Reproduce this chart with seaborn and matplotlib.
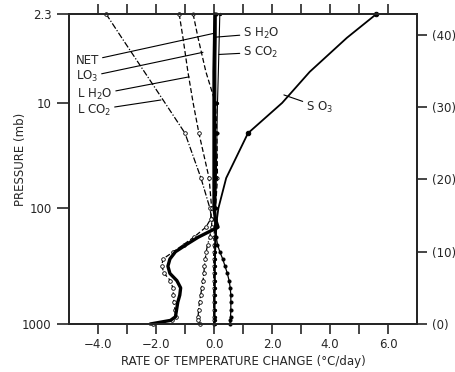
"""Heating / cooling rate profiles by absorber (stratosphere + troposphere)."""
import matplotlib
matplotlib.use("Agg")
import matplotlib.pyplot as plt
import seaborn as sns

# altitude (km) of each level; 42.9 km is the 2.3 mb top of the chart
ALT = [42.9, 39.6, 34.9, 30.6, 26.4, 20.2, 16.0, 14.5, 13.4, 12.0, 11.0, 10.0,
       9.0, 8.0, 7.0, 6.0, 5.0, 4.0, 3.0, 2.0, 1.0, 0.5, 0.0]

# rates in deg C / day, one value per level in ALT
S_O3 = [5.6, 4.58, 3.3, 2.35, 1.17, 0.42, 0.15, 0.1, 0.08, 0.06, 0.05, 0.04,
        0.04, 0.03, 0.03, 0.03, 0.03, 0.02, 0.02, 0.02, 0.02, 0.02, 0.02]
S_H2O = [0.07, 0.07, 0.06, 0.06, 0.05, 0.05, 0.05, 0.05, 0.06, 0.08, 0.12, 0.2,
         0.3, 0.38, 0.46, 0.52, 0.56, 0.58, 0.58, 0.58, 0.57, 0.56, 0.55]
S_CO2 = [0.2, 0.18, 0.15, 0.12, 0.1, 0.08, 0.06, 0.05, 0.04, 0.03, 0.03, 0.03,
         0.02, 0.02, 0.02, 0.02, 0.02, 0.02, 0.02, 0.02, 0.02, 0.02, 0.02]
L_O3 = [-0.72, -0.55, -0.28, 0.05, 0.1, 0.12, 0.05, 0.03, 0.02, 0.0, 0.0, -0.01,
        -0.01, -0.01, -0.01, -0.01, -0.01, -0.01, -0.01, -0.01, -0.01, -0.01, -0.01]
L_CO2 = [-3.72, -3.18, -2.4, -1.69, -1.0, -0.45, -0.14, -0.08, -0.08, -0.15, -0.22, -0.27,
         -0.3, -0.33, -0.35, -0.38, -0.42, -0.46, -0.5, -0.53, -0.55, -0.55, -0.5]
L_H2O = [-1.2, -1.07, -0.9, -0.72, -0.52, -0.17, -0.08, -0.12, -0.28, -0.7, -1.05, -1.4,
         -1.76, -1.8, -1.72, -1.5, -1.42, -1.4, -1.38, -1.35, -1.32, -1.45, -2.1]
NET = [0.03, 0.02, 0.0, 0.0, 0.0, 0.0, 0.0, 0.05, 0.14, -0.55, -0.95, -1.33,
       -1.52, -1.59, -1.52, -1.28, -1.15, -1.18, -1.25, -1.29, -1.33, -1.5, -2.2]

PRESSURE_ALT = [0.0, 16.0, 30.6, 42.9]
PRESSURE_LABELS = ["1000", "100", "10", "2.3"]
KM_TICKS = [0, 10, 20, 30, 40]

plt.rcParams.update({"figure.dpi": 100, "font.size": 8.5})
sns.set_style("ticks")
plt.rcParams["font.family"] = ["DejaVu Sans"]

fig = plt.figure(figsize=(4.55, 3.72))
ax = fig.add_axes([0.1516, 0.129, 0.765, 0.8334])

# levels that carry a marker (39.6 / 34.9 km only shape the curves)
marked = [0, 3, 4, 5, 6, 7, 8, 9, 10, 11, 12, 13, 14, 15, 16, 17, 18, 19, 20, 21, 22]
marked_lw = [i for i in marked if i != 3]

common = dict(y=ALT, sort=False, estimator=None, ax=ax, color="black",
              clip_on=False, markeredgecolor="black")
open_circ = dict(marker="o", markerfacecolor="white", markeredgewidth=0.6)
sns.lineplot(x=L_CO2, lw=0.9, linestyle=(0, (5, 1.5, 1, 1.5)),
             markersize=2.6, markevery=marked_lw, **open_circ, **common)
sns.lineplot(x=L_H2O, lw=0.9, linestyle=(0, (4, 2)),
             markersize=2.6, markevery=marked_lw, **open_circ, **common)
sns.lineplot(x=L_O3, lw=0.9, linestyle=(0, (4, 2)),
             markersize=2.3, markevery=marked, **open_circ, **common)
sns.lineplot(x=S_CO2, lw=0.8, marker="o", markersize=1.6, markevery=marked, **common)
sns.lineplot(x=S_H2O, lw=0.9, marker="o", markersize=2.2, markevery=marked, **common)
sns.lineplot(x=S_O3, lw=1.3, marker="o", markersize=3.2, markevery=[0, 4], **common)
sns.lineplot(x=NET, lw=2.4, **common)

ax.set_xlim(-5, 7)
ax.set_ylim(0, 42.9)
ax.set_xticks(range(-4, 7))
ax.set_xticklabels(["\u22124.0" if v == -4 else "\u22122.0" if v == -2 else
                    f"{v:.1f}" if v % 2 == 0 else "" for v in range(-4, 7)])
ax.set_yticks(PRESSURE_ALT)
ax.set_yticklabels(PRESSURE_LABELS)
ax.tick_params(axis="both", direction="out", length=7, width=1.2, labelsize=8.5)
ax.tick_params(axis="x", top=True, pad=3)
ax.tick_params(axis="y", length=9)
for s in ax.spines.values():
    s.set_linewidth(1.4)

ax2 = ax.twinx()
ax2.set_ylim(0, 42.9)
ax2.set_yticks(KM_TICKS)
ax2.set_yticklabels([f"({k})" for k in KM_TICKS])
ax2.tick_params(axis="y", direction="out", length=7, width=1.2, labelsize=8.5)
for s in ax2.spines.values():
    s.set_linewidth(1.4)

ax.set_xlabel("RATE OF TEMPERATURE CHANGE (\u00b0C/day)", fontsize=8.5, labelpad=3)
ax.set_ylabel("PRESSURE (mb)", fontsize=8.5)
ax.yaxis.set_label_coords(-0.12, 0.53)

lead = dict(arrowstyle="-", lw=0.8, color="black", shrinkA=0, shrinkB=0)
labels = [
    ("NET", (-4.76, 36.4), (-0.03, 40.2)),
    (r"LO$_3$", (-4.76, 34.2), (-0.38, 37.6)),
    (r"L H$_2$O", (-4.72, 31.7), (-0.86, 34.2)),
    (r"L CO$_2$", (-4.72, 29.6), (-1.83, 31.0)),
    (r"S H$_2$O", (1.0, 40.2), (0.07, 39.7)),
    (r"S CO$_2$", (1.0, 37.6), (0.17, 37.3)),
    (r"S O$_3$", (3.17, 30.0), (2.41, 31.7)),
]
for text, xytext, xy in labels:
    ax.annotate(text, xy=xy, xytext=xytext, ha="left", va="center",
                fontsize=8.5, arrowprops=lead)

fig.savefig("out.png", dpi=100)
